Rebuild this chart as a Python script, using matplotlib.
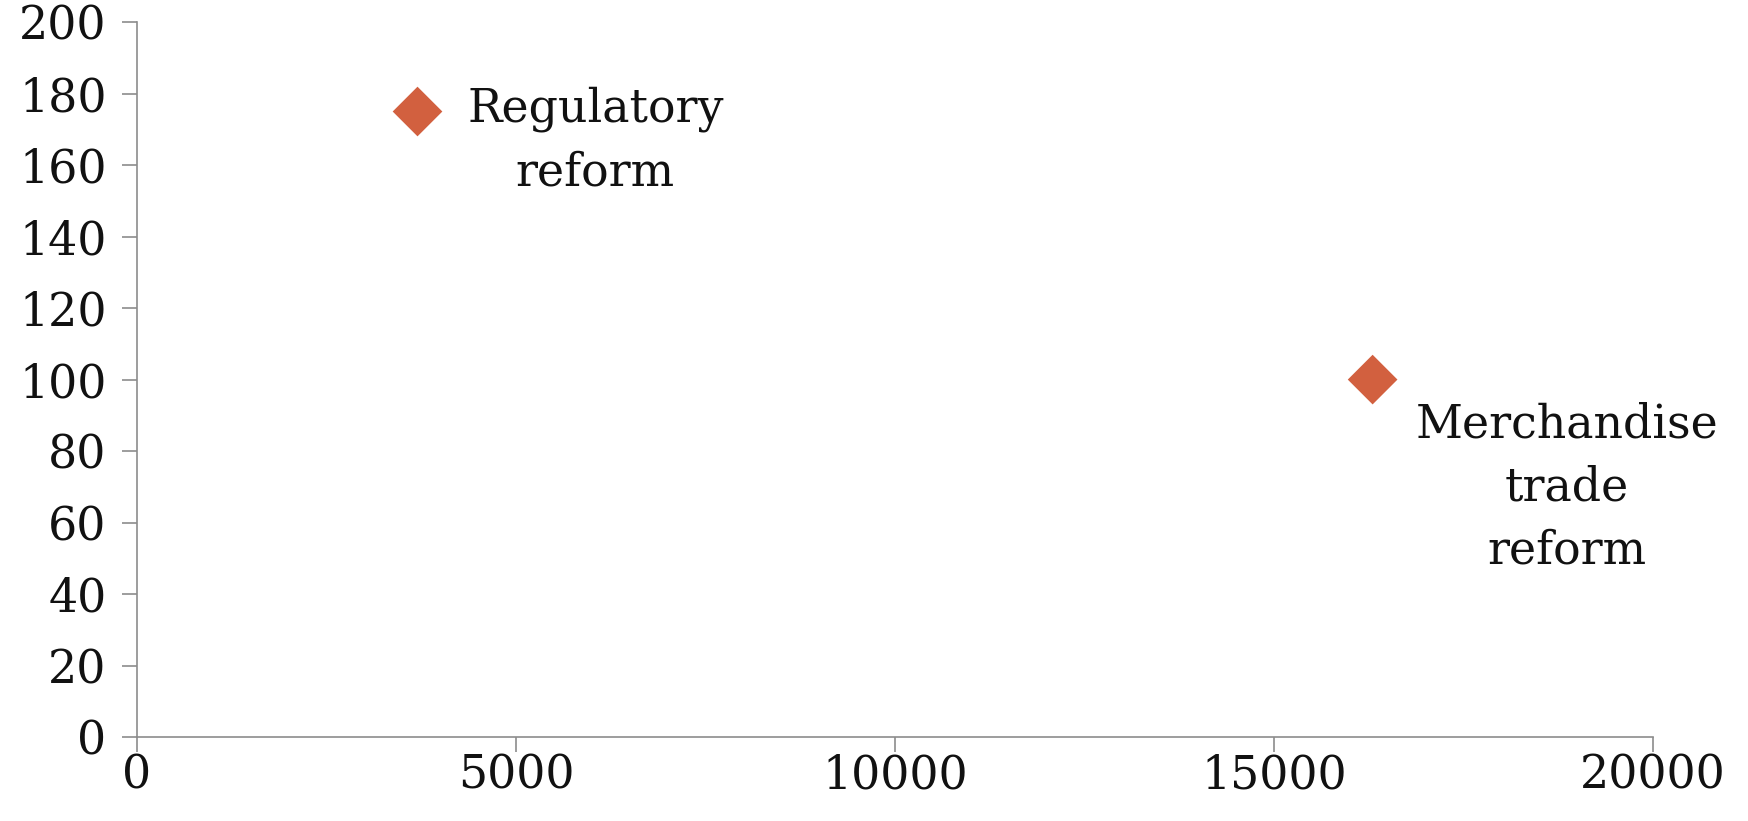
import matplotlib
matplotlib.use("Agg")
import matplotlib.pyplot as plt

# Reform scenarios: x value, y value, label
reform_labels = ["Regulatory\nreform", "Merchandise\ntrade\nreform"]
reform_x = [3700, 16300]
reform_y = [175, 100]
label_offsets_pt = [(128, -21), (140, -78)]

x_ticks = [0, 5000, 10000, 15000, 20000]
y_ticks = [0, 20, 40, 60, 80, 100, 120, 140, 160, 180, 200]

marker_color = "#D2603F"
axis_color = "#8C8C8C"
font = "DejaVu Serif"

fig = plt.figure(figsize=(17.48, 8.21), dpi=100)
ax = fig.add_axes([0.0784, 0.1023, 0.8673, 0.8707])

ax.scatter(reform_x, reform_y, marker="D", s=640, color=marker_color,
           edgecolors="none", zorder=3, clip_on=False)

for lbl, x, y, off in zip(reform_labels, reform_x, reform_y, label_offsets_pt):
    ax.annotate(lbl, xy=(x, y), xytext=off, textcoords="offset points",
                ha="center", va="center", multialignment="center",
                fontsize=33, family=font, color="#111111", linespacing=1.5)

ax.set_xlim(0, 20000)
ax.set_ylim(0, 200)
ax.set_xticks(x_ticks)
ax.set_yticks(y_ticks)
ax.set_xticklabels([str(v) for v in x_ticks], family=font, fontsize=33)
ax.set_yticklabels([str(v) for v in y_ticks], family=font, fontsize=33)

for side in ("top", "right"):
    ax.spines[side].set_visible(False)
for side in ("left", "bottom"):
    ax.spines[side].set_color(axis_color)
    ax.spines[side].set_linewidth(1.2)

ax.tick_params(axis="both", direction="out", length=11, width=1.2,
               color=axis_color, labelcolor="#111111")
ax.tick_params(axis="y", pad=11)
ax.tick_params(axis="x", pad=1)

fig.savefig("out.png", dpi=100, facecolor="white")
